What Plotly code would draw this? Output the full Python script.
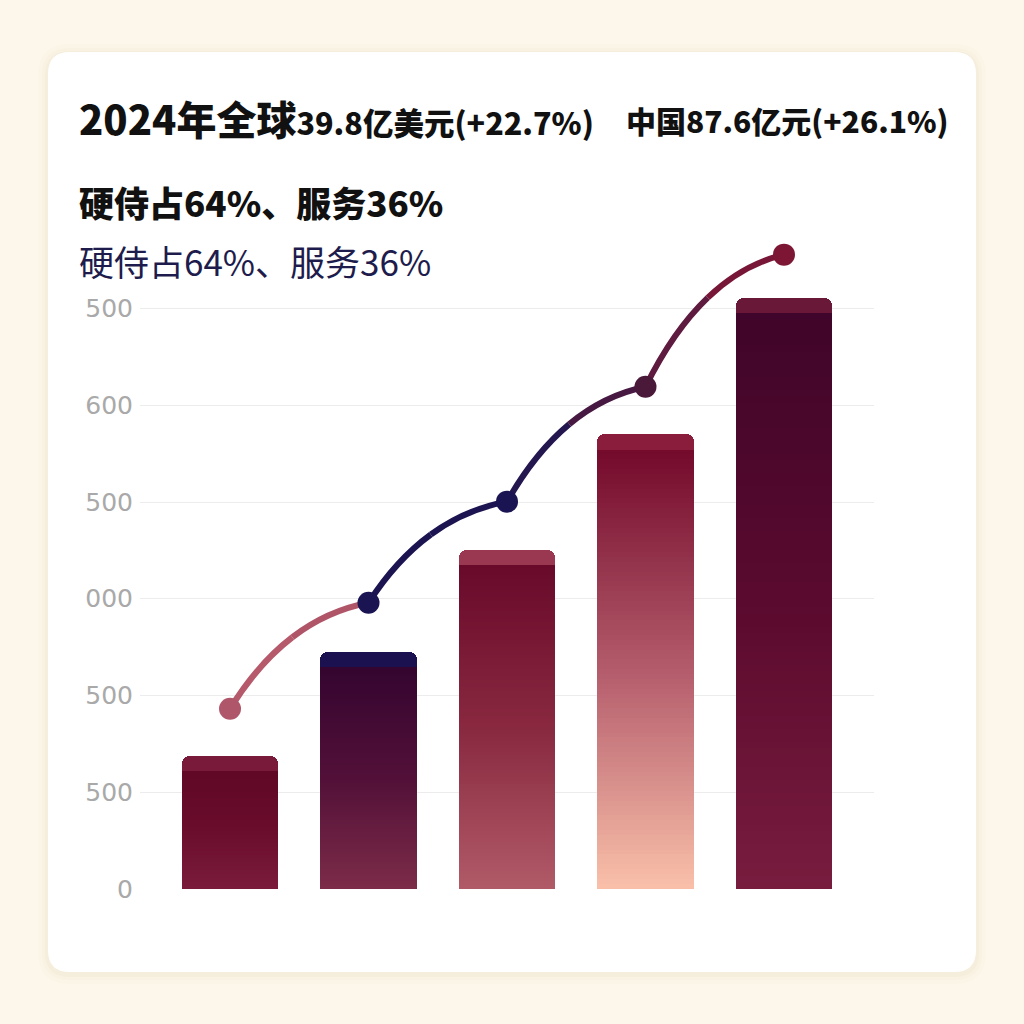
import plotly.graph_objects as go

# ---------------- data ----------------
categories = ["2020", "2021", "2022", "2023", "2024"]
bar_values = [688, 1226, 1753, 2348, 3052]
line_values = [931, 1479, 2002, 2596, 3279]
tick_vals = [0, 500, 1000, 1500, 2000, 2500, 3000]
tick_text = ["0", "500", "500", "000", "500", "600", "500"]
title_main = "2024年全球"
title_global = "39.8亿美元(+22.7%)"
title_china = "中国87.6亿元(+26.1%)"
subtitle = "硬侍占64%、服务36%"

# ---------------- style ----------------
W = 1024
H = 1040                 # rendered height; capture is squeezed back to 1024
KY = H / 1024.0          # design-pixel -> figure-pixel (vertical)
BG = "#fcf7ea"
FONT = "Noto Sans CJK SC"
cap_h = 78
bar_width = 0.70
cap_colors = ["#7a1a3a", "#1b1050", "#9a3852", "#8a1d3c", "#6a1838"]
grad_stops = [
    ["#600826", "#6a0c2c", "#7a1b3b"],
    ["#340530", "#521038", "#7c2b48"],
    ["#690a2b", "#89283f", "#b05a68"],
    ["#740a2c", "#b35b6b", "#f9bfa9"],
    ["#40052a", "#5a0a2e", "#781c3e"],
]
seg_colors = [("#b5596b", "#b05568"), ("#1c1450", "#1c1450"),
              ("#24164f", "#461842"), ("#5e1a3f", "#781638")]
marker_colors = ["#b0566a", "#1a1452", "#1a1452", "#4a1838", "#7d1535"]


def PY(v):  # design pixel y (top origin) -> paper fraction
    return 1 - v * KY / H


def PX(v):
    return v / W


def hex2rgb(h):
    h = h.lstrip("#")
    return [int(h[i:i + 2], 16) for i in (0, 2, 4)]


def mix(c1, c2, t):
    a, b = hex2rgb(c1), hex2rgb(c2)
    return "rgb(%d,%d,%d)" % tuple(round(a[i] + (b[i] - a[i]) * t) for i in range(3))


def grad(stops, t):
    if t <= 0.5:
        return mix(stops[0], stops[1], t / 0.5)
    return mix(stops[1], stops[2], (t - 0.5) / 0.5)


x_idx = list(range(len(categories)))
fig = go.Figure()

fig.add_trace(go.Bar(x=x_idx, y=bar_values, width=bar_width,
                     marker=dict(color=cap_colors, line=dict(width=0), cornerradius=7),
                     hoverinfo="skip", showlegend=False))
N = 90
for k in range(N):
    t = k / (N - 1)
    heights = [(v - cap_h) * (1 - k / N) for v in bar_values]
    cols = [grad(grad_stops[i], t) for i in range(len(bar_values))]
    fig.add_trace(go.Bar(x=x_idx, y=heights, width=bar_width,
                         marker=dict(color=cols, line=dict(width=0)),
                         hoverinfo="skip", showlegend=False))

fig.add_trace(go.Scatter(x=x_idx, y=line_values, mode="markers",
                         marker=dict(size=22, color=marker_colors, line=dict(width=0)),
                         hoverinfo="skip", showlegend=False))

shapes = []


def rrect(x0, y0, x1, y1, r):
    return (f"M {PX(x0 + r)},{PY(y0)} L {PX(x1 - r)},{PY(y0)} Q {PX(x1)},{PY(y0)} {PX(x1)},{PY(y0 + r)} "
            f"L {PX(x1)},{PY(y1 - r)} Q {PX(x1)},{PY(y1)} {PX(x1 - r)},{PY(y1)} "
            f"L {PX(x0 + r)},{PY(y1)} Q {PX(x0)},{PY(y1)} {PX(x0)},{PY(y1 - r)} "
            f"L {PX(x0)},{PY(y0 + r)} Q {PX(x0)},{PY(y0)} {PX(x0 + r)},{PY(y0)} Z")


for g, a in [(10, 0.02), (6, 0.03), (3, 0.04)]:
    shapes.append(dict(type="path", xref="paper", yref="paper", layer="below",
                       path=rrect(48 - g, 52 - g + 2, 976 + g, 971 + g + 2, 22 + g),
                       fillcolor=f"rgba(180,150,100,{a})", line=dict(width=0)))
shapes.append(dict(type="path", xref="paper", yref="paper", layer="below",
                   path=rrect(48, 52, 976, 971, 22), fillcolor="#ffffff", line=dict(width=0)))

for i in range(len(line_values) - 1):
    x0, y0 = x_idx[i], line_values[i]
    x1, y1 = x_idx[i + 1], line_values[i + 1]
    cx, cy = x0 + 0.4 * (x1 - x0), y0 + 0.85 * (y1 - y0)
    m0 = ((x0 + cx) / 2, (y0 + cy) / 2)
    m1 = ((cx + x1) / 2, (cy + y1) / 2)
    mid = ((m0[0] + m1[0]) / 2, (m0[1] + m1[1]) / 2)
    halves = [((x0, y0), m0, mid), (mid, m1, (x1, y1))]
    for h, (p0, c, p1) in enumerate(halves):
        shapes.append(dict(type="path", xref="x", yref="y", layer="between",
                           path=f"M {p0[0]},{p0[1]} Q {c[0]},{c[1]} {p1[0]},{p1[1]}",
                           line=dict(color=seg_colors[i][h], width=6)))

ann = [
    dict(text=f"<span style='font-size:40px'>{title_main}</span>{title_global}",
         x=PX(77), y=PY(118), font=dict(size=30.5, color="#111111", family=FONT, weight=900)),
    dict(text=title_china, x=PX(624), y=PY(120),
         font=dict(size=30, color="#111111", family=FONT, weight=900)),
    dict(text=subtitle, x=PX(77), y=PY(201),
         font=dict(size=35, color="#111111", family=FONT, weight=900)),
    dict(text=subtitle, x=PX(77), y=PY(260),
         font=dict(size=35, color="#1e1c4c", family=FONT)),
]
for a in ann:
    a.update(xref="paper", yref="paper", xanchor="left", yanchor="middle", showarrow=False)

fig.update_layout(
    width=W, height=H, margin=dict(l=0, r=0, t=0, b=0),
    paper_bgcolor=BG, plot_bgcolor="rgba(0,0,0,0)",
    barmode="overlay", bargap=0, showlegend=False,
    shapes=shapes, annotations=ann,
    xaxis=dict(domain=[PX(140), PX(874)], range=[-0.65, 4.65], showgrid=False,
               zeroline=False, showticklabels=False, fixedrange=True),
    yaxis=dict(domain=[PY(888), PY(231)], range=[0, 3400],
               tickvals=tick_vals, ticktext=tick_text, showgrid=True,
               gridcolor="#ececec", gridwidth=1, zeroline=False, ticks="",
               tickfont=dict(size=25, color="#a9a9a9", family="DejaVu Sans"),
               ticklabelstandoff=6, fixedrange=True),
)

fig.write_html(
    "out.html",
    config={"displayModeBar": False},
    post_script=("document.documentElement.style.margin='0';"
                 "document.body.style.margin='0';"
                 "document.documentElement.style.background='%s';"
                 "document.body.style.background='%s';" % (BG, BG)),
)
